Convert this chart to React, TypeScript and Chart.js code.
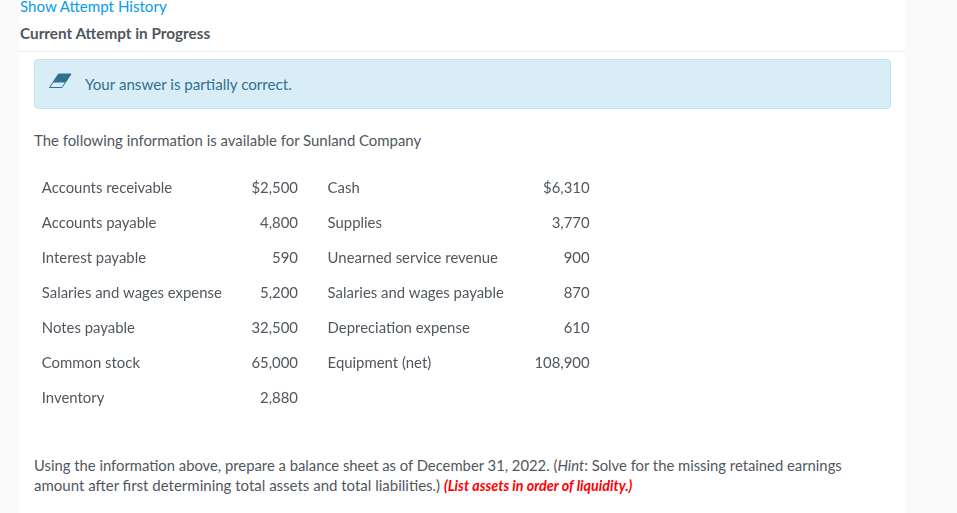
import { useRef, useEffect, CSSProperties } from 'react';
import { Chart, registerables } from 'chart.js';

Chart.register(...registerables);

// table columns
const leftNames = ['Accounts receivable', 'Accounts payable', 'Interest payable', 'Salaries and wages expense', 'Notes payable', 'Common stock', 'Inventory'];
const leftAmounts = [2500, 4800, 590, 5200, 32500, 65000, 2880];
const rightNames = ['Cash', 'Supplies', 'Unearned service revenue', 'Salaries and wages payable', 'Depreciation expense', 'Equipment (net)'];
const rightAmounts = [6310, 3770, 900, 870, 610, 108900];

const FONT = 'Lato, sans-serif';
const TEXT = '#50575e';

const money = (v: number, i: number) => (i === 0 ? '$' : '') + v.toLocaleString('en-US');

// writes each dataset's texts at the points the scales worked out
const cellText = {
  id: 'cellText',
  afterDatasetsDraw(chart: any) {
    const { ctx } = chart;
    ctx.save();
    ctx.font = `14.9px ${FONT}`;
    ctx.fillStyle = TEXT;
    ctx.textBaseline = 'middle';
    chart.data.datasets.forEach((ds: any, d: number) => {
      ctx.textAlign = ds.cellAlign;
      chart.getDatasetMeta(d).data.forEach((pt: any, i: number) => {
        ctx.fillText(ds.cellTexts[i], pt.x, pt.y);
      });
    });
    ctx.restore();
  }
};

const column = (x: number, texts: string[], cellAlign: string) => ({
  label: texts[0],
  data: texts.map((_, i) => ({ x, y: i })),
  cellTexts: texts,
  cellAlign,
  pointRadius: 0,
  showLine: false
});

const AmountsTable = () => {
  const canvasRef = useRef<HTMLCanvasElement>(null);

  useEffect(() => {
    if (!canvasRef.current) return;
    const chart = new Chart(canvasRef.current, {
      type: 'scatter',
      data: {
        datasets: [
          column(21.8, leftNames, 'left'),
          column(278, leftAmounts.map(money), 'right'),
          column(307.6, rightNames, 'left'),
          column(569.6, rightAmounts.map(money), 'right')
        ] as any
      },
      options: {
        animation: false,
        responsive: false,
        layout: { padding: 0 },
        plugins: { legend: { display: false }, tooltip: { enabled: false } },
        scales: {
          x: { type: 'linear', min: 0, max: 600, display: false },
          y: { type: 'category', labels: leftNames, offset: true, display: false }
        }
      },
      plugins: [cellText]
    });
    return () => chart.destroy();
  }, []);

  return <canvas ref={canvasRef} width={600} height={245} style={{ position: 'absolute', left: 20, top: 171 }} />;
};

const line = (left: number, top: number, extra: CSSProperties = {}): CSSProperties => ({
  position: 'absolute',
  left,
  top,
  whiteSpace: 'nowrap',
  lineHeight: '20px',
  ...extra
});

export default function App() {
  return (
    <div style={{ position: 'fixed', inset: 0, background: '#fafafa', overflow: 'hidden', fontFamily: FONT, fontSize: 15, color: TEXT }}>
      <div style={{ position: 'absolute', left: 20, top: 0, width: 885, height: 513, background: '#fff' }} />
      <div style={line(20, -4, { color: '#0a9bea', fontSize: 15.1 })}>Show Attempt History</div>
      <div style={line(20, 23, { fontWeight: 700, fontSize: 15.3 })}>Current Attempt in Progress</div>
      <div style={{ position: 'absolute', left: 20, top: 51, width: 885, height: 1, background: '#eeeeee' }} />
      <div style={{ position: 'absolute', left: 34, top: 59, width: 855, height: 48, background: '#d9edf7', border: '1px solid #bce8f1', borderRadius: 4 }} />
      <svg style={{ position: 'absolute', left: 48, top: 73 }} width={24} height={16}>
        <polygon points="10.5,1 23,1 14,14.5 1.5,14.5" fill="none" stroke="#31708f" strokeWidth={1} />
        <polygon points="10.5,1 23,1 17.5,9.5 5,9.5" fill="#31708f" />
      </svg>
      <div style={line(85, 74, { color: '#31708f', fontSize: 15.15 })}>Your answer is partially correct.</div>
      <div style={line(34, 130, { fontSize: 14.92 })}>The following information is available for Sunland Company</div>
      <AmountsTable />
      <div style={line(34, 455, { fontSize: 14.8 })}>
        Using the information above, prepare a balance sheet as of December 31, 2022. (<i>Hint</i>: Solve for the missing retained earnings
      </div>
      <div style={line(34, 475)}>
        amount after first determining total assets and total liabilities.){' '}
        <b style={{ color: '#f00', fontStyle: 'italic', fontSize: 14.3 }}>(List assets in order of liquidity.)</b>
      </div>
    </div>
  );
}
